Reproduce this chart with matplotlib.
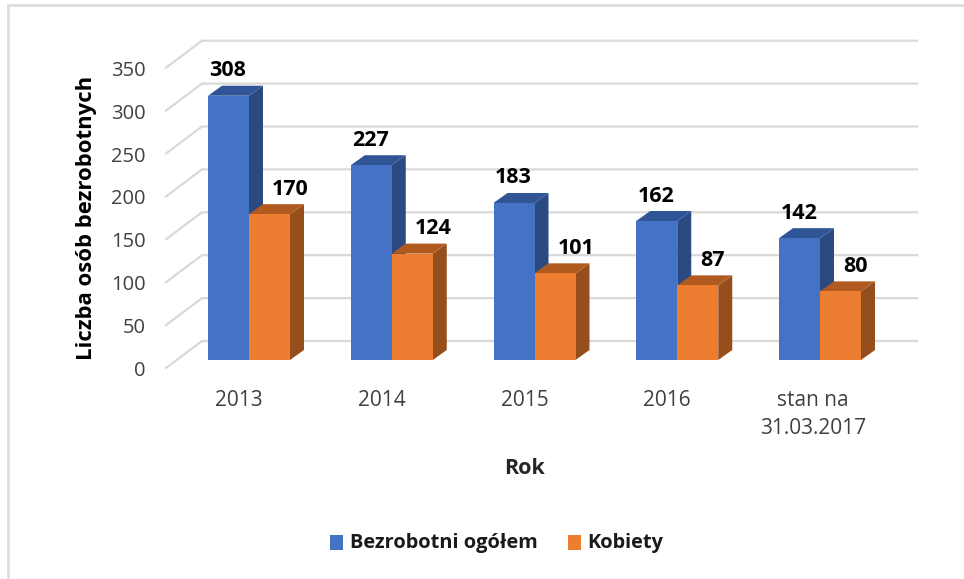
import matplotlib
matplotlib.use("Agg")
import matplotlib.pyplot as plt
from matplotlib.patches import Polygon, Rectangle

categories = ["2013", "2014", "2015", "2016", "stan na\n31.03.2017"]
total = [308, 227, 183, 162, 142]
women = [170, 124, 101, 87, 80]
yticks = [0, 50, 100, 150, 200, 250, 300, 350]
series_names = ["Bezrobotni ogółem", "Kobiety"]
y_title = "Liczba osób bezrobotnych"
x_title = "Rok"

W, H = 964, 579
PX_X = 142.75      # pixels per category
PX_Y = 0.858       # pixels per unit of value
X0, Y0 = 249, 360  # pixel position of category 0, value 0
BW = 41 / PX_X
DX, DY = 14 / PX_X, 10 / PX_Y            # bar depth
WALL_DX, WALL_DY = 36 / PX_X, 27 / PX_Y  # wall depth

plt.rcParams["font.family"] = ["Open Sans", "DejaVu Sans"]
fig = plt.figure(figsize=(W / 100, H / 100), dpi=100, facecolor="white")
ax = fig.add_axes([0, 0, 1, 1])
ax.set_xlim(-X0 / PX_X, (W - X0) / PX_X)
ax.set_ylim(-(H - Y0) / PX_Y, Y0 / PX_Y)
ax.axis("off")

def px(x):
    return (x - X0) / PX_X

def py(y):
    return (Y0 - y) / PX_Y

# frame of the chart (left and top edges only are visible)
ax.plot([px(8.5), px(8.5), px(W)], [py(H), py(5), py(5)], color="#dedede", lw=2,
        solid_joinstyle="miter", zorder=0)

# gridlines: front slanted stub plus back wall
front_x, back_x, right_x = px(166), px(202), px(917)
front_base = py(368)
for t in yticks:
    yf = front_base + t
    yb = yf + WALL_DY
    ax.plot([front_x, back_x, right_x], [yf, yb, yb], color="#d9d9d9", lw=1.6,
            solid_joinstyle="miter", zorder=1)
    ax.text(px(146), yf - 3 / PX_Y, str(t), ha="right", va="center", fontsize=14.5, color="#404040")

def bar3d(x, v, front, top, side):
    ax.add_patch(Polygon([(x + BW, 0), (x + BW + DX, DY), (x + BW + DX, v + DY), (x + BW, v)],
                         fc=side, ec="none", zorder=3))
    ax.add_patch(Polygon([(x, v), (x + DX, v + DY), (x + BW + DX, v + DY), (x + BW, v)],
                         fc=top, ec="none", zorder=3))
    ax.add_patch(Rectangle((x, 0), BW, v, fc=front, ec="none", zorder=4))

COL = [("#4472c4", "#2f5597", "#2b4a82"), ("#ed7d31", "#b15a1f", "#964f1c")]
for i, (a, b) in enumerate(zip(total, women)):
    bar3d(i - BW, a, *COL[0])
    bar3d(i, b, *COL[1])
    ax.text(i - BW + 20 / PX_X, a + 25 / PX_Y, str(a), ha="center", va="center",
            fontsize=15.5, fontweight="bold", color="black", zorder=5)
    ax.text(i + 23 / PX_X, b + 25 / PX_Y, str(b), ha="left", va="center",
            fontsize=15.5, fontweight="bold", color="black", zorder=5)

for i, c in enumerate(categories):
    lines = c.split("\n")
    for k, s in enumerate(lines):
        ax.text(i - 10 / PX_X + (3 / PX_X if len(lines) > 1 else 0), py(400 + 29 * k), s,
                ha="center", va="center", fontsize=15, color="#404040")

ax.text(px(87), py(218), y_title, rotation=90, ha="center", va="center",
        fontsize=15.9, fontweight="bold", color="black")
ax.text(px(525), py(468), x_title, ha="center", va="center",
        fontsize=15.5, fontweight="bold", color="#262626")

# legend
for name, col, bx, tx in zip(series_names, ("#4472c4", "#ed7d31"), (330, 568), (350, 587)):
    ax.add_patch(Rectangle((px(bx), py(550)), 13 / PX_X, 15 / PX_Y, fc=col, ec="none"))
    ax.text(px(tx), py(543), name, ha="left", va="center",
            fontsize=14.4, fontweight="bold", color="#1a1a1a")

fig.savefig("out.png", dpi=100, facecolor="white")
